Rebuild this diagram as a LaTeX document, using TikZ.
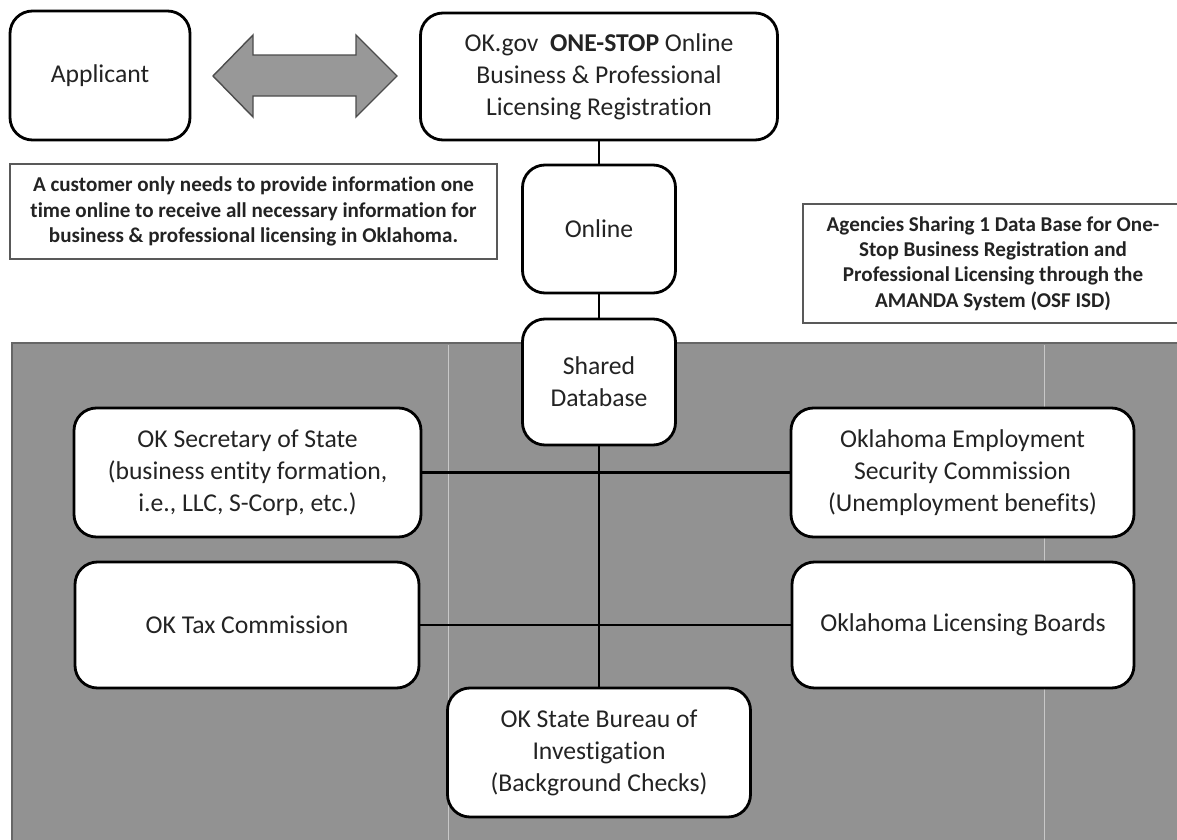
\documentclass[tikz,border=0pt]{standalone}
\usepackage{fontspec}
\setmainfont{Carlito}[Ligatures=NoCommon]
\usepackage{xcolor}
\usetikzlibrary{positioning}

\definecolor{scangray}{RGB}{146,146,146}
\definecolor{arrowgray}{RGB}{152,152,152}
\definecolor{inkgray}{RGB}{35,35,35}

\tikzset{
    orgbox/.style={draw, fill=white, line width=1.6pt, rounded corners=0.45cm,
                   align=center, inner sep=0pt, text=inkgray,
                   font=\fontsize{14.6}{18.2}\selectfont},
    notebox/.style={draw=black!65, fill=white, line width=0.7pt,
                    align=center, inner sep=0pt, text=inkgray,
                    font=\fontsize{12}{14.4}\selectfont\bfseries},
    wire/.style={line width=1.6pt}
}

\begin{document}
\begin{tikzpicture}
                \useasboundingbox (0,0) rectangle (23.54,-16.8);

                \fill[scangray] (0.24,-6.86) rectangle (23.7,-17);
                \draw[black!60, line width=0.8pt] (0.24,-17) -- (0.24,-6.86) -- (23.7,-6.86);
                \draw[white, opacity=0.5, line width=0.4pt] (8.96,-6.9) -- (8.96,-16.8);
                \draw[white, opacity=0.5, line width=0.4pt] (20.88,-6.9) -- (20.88,-16.8);

                \node [orgbox, minimum width=3.6cm, minimum height=2.58cm]
                                        (applicant) at (2.0,-1.51) {Applicant};
                \node [orgbox, minimum width=7.14cm, minimum height=2.54cm]
                                        (portal) at (11.98,-1.53)
                        {OK.gov\ \ \textbf{ONE-STOP} Online\\Business \& Professional\\Licensing Registration};

                \draw[draw=black!70, fill=arrowgray, line width=0.8pt]
                        (4.26,-1.52) -- (5.06,-0.70) -- (5.06,-1.10) -- (7.12,-1.10)
                        -- (7.12,-0.70) -- (7.94,-1.52) -- (7.12,-2.34) -- (7.12,-1.92)
                        -- (5.06,-1.92) -- (5.06,-2.34) -- cycle;

                \node [notebox, minimum width=9.74cm, minimum height=1.9cm]
                                        (customer) at (5.07,-4.23)
                        {A customer only needs to provide information one\\time online to receive all necessary information for\\business \& professional licensing in Oklahoma.};
                \node [notebox, minimum width=7.6cm, minimum height=2.38cm]
                                        (agencies) at (19.86,-5.27)
                        {Agencies Sharing 1 Data Base for One-\\Stop Business Registration and\\Professional Licensing through the\\AMANDA System (OSF ISD)};

                \node [orgbox, minimum width=3.06cm, minimum height=2.56cm]
                                        (online) at (11.98,-4.58) {Online};
                \node [orgbox, minimum width=3.06cm, minimum height=2.52cm]
                                        (shared) at (11.98,-7.64) {Shared\\Database};

                \node [orgbox, minimum width=6.94cm, minimum height=2.58cm]
                                        (sos) at (4.95,-9.45)
                        {OK Secretary of State\\(business entity formation,\\i.e., LLC, S-Corp, etc.)};
                \node [orgbox, minimum width=6.86cm, minimum height=2.58cm]
                                        (oesc) at (19.25,-9.45)
                        {Oklahoma Employment\\Security Commission\\(Unemployment benefits)};
                \node [orgbox, minimum width=6.88cm, minimum height=2.52cm]
                                        (tax) at (4.94,-12.5) {OK Tax Commission};
                \node [orgbox, minimum width=6.84cm, minimum height=2.52cm]
                                        (boards) at (19.26,-12.5) {Oklahoma Licensing Boards};
                \node [orgbox, minimum width=6.06cm, minimum height=2.58cm]
                                        (osbi) at (11.98,-15.05)
                        {OK State Bureau of\\Investigation\\(Background Checks)};

                \draw[wire] (portal) -- (online);
                \draw[wire] (online) -- (shared);
                \draw[wire] (shared) -- (osbi);
                \draw[wire] (sos) -- (oesc);
                \draw[wire] (tax) -- (boards);
\end{tikzpicture}
\end{document}
